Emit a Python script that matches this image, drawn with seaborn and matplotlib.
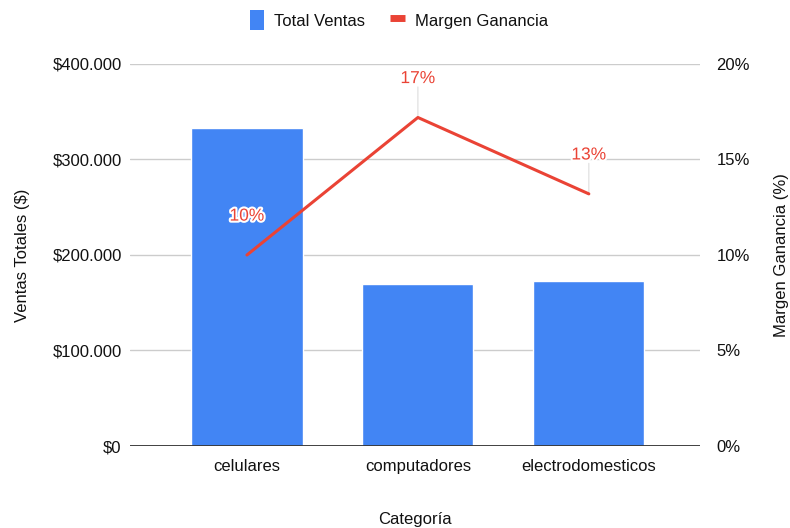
import matplotlib.pyplot as plt
import matplotlib.patheffects as pe
from matplotlib.patches import Patch
from matplotlib.lines import Line2D
from matplotlib.ticker import FuncFormatter, MultipleLocator
import seaborn as sns
import pandas as pd

categorias = ["celulares", "computadores", "electrodomesticos"]
total_ventas = [333000, 169500, 172800]
margen_ganancia = [0.100, 0.172, 0.132]

BLUE = "#4285F4"
RED = "#EA4335"
GRID = "#CCCCCC"
TEXT = "#111111"
FS = 12

sns.set_theme(style="white")
plt.rcParams["font.family"] = ["Liberation Sans", "DejaVu Sans"]

df = pd.DataFrame({"Categoría": categorias, "Ventas": total_ventas, "Margen": margen_ganancia})

fig = plt.figure(figsize=(7.9, 5.28), dpi=100)
ax = fig.add_axes([0.1646, 0.1553, 0.886 - 0.1646, 0.8788 - 0.1553])

sns.barplot(data=df, x="Categoría", y="Ventas", ax=ax, color=BLUE, width=0.65,
            saturation=1, zorder=2)
ax.set_ylim(0, 400000)
ax.yaxis.set_major_locator(MultipleLocator(100000))
ax.yaxis.set_major_formatter(FuncFormatter(lambda v, p: "$" + f"{int(v):,}".replace(",", ".")))
ax.grid(axis="y", color=GRID, linewidth=1, zorder=0)
ax.set_axisbelow(True)
for s in ax.spines.values():
    s.set_visible(False)
ax.axhline(0, color="#333333", linewidth=1.3, zorder=3)
ax.set_xlim(-0.684, 2.65)
ax.tick_params(axis="both", length=0, labelsize=FS, colors=TEXT, pad=6)
ax.tick_params(axis="x", pad=9)
ax.set_ylabel("Ventas Totales ($)", fontsize=FS, color=TEXT, labelpad=16)
ax.set_xlabel("Categoría", fontsize=FS, color=TEXT, labelpad=28)

ax2 = ax.twinx()
sns.lineplot(data=df, x="Categoría", y="Margen", ax=ax2, color=RED, linewidth=2.2,
             sort=False, zorder=4)
ax2.set_ylim(0, 0.20)
ax2.yaxis.set_major_locator(MultipleLocator(0.05))
ax2.yaxis.set_major_formatter(FuncFormatter(lambda v, p: f"{v * 100:.0f}%"))
for s in ax2.spines.values():
    s.set_visible(False)
ax2.tick_params(axis="y", length=0, labelsize=FS, colors=TEXT, pad=12)
ax2.set_ylabel("Margen Ganancia (%)", fontsize=FS, color=TEXT, labelpad=17,
               rotation=90)
ax2.grid(False)

for i, m in enumerate(margen_ganancia):
    if i > 0:
        ax2.annotate("", xy=(i, m), xytext=(0, 22), textcoords="offset points",
                     arrowprops=dict(arrowstyle="-", color="#DDDDDD", lw=0.8,
                                     shrinkA=0, shrinkB=0))
    t = ax2.annotate(f"{m * 100:.0f}%", xy=(i, m), xytext=(0, 28),
                     textcoords="offset points", ha="center", va="center",
                     fontsize=12.5, color=RED, zorder=6)
    t.set_path_effects([pe.withStroke(linewidth=3, foreground="white")])

handles = [Patch(facecolor=BLUE, edgecolor="none"),
           Line2D([0], [0], color=RED, linewidth=5, solid_capstyle="butt")]
fig.legend(handles, ["Total Ventas", "Margen Ganancia"], loc="center",
           bbox_to_anchor=(0.505, 0.962), ncol=2, frameon=False, fontsize=FS,
           handlelength=0.85, handleheight=1.4, columnspacing=1.5, handletextpad=0.6,
           labelcolor=TEXT)

fig.savefig("out.png", dpi=100)
